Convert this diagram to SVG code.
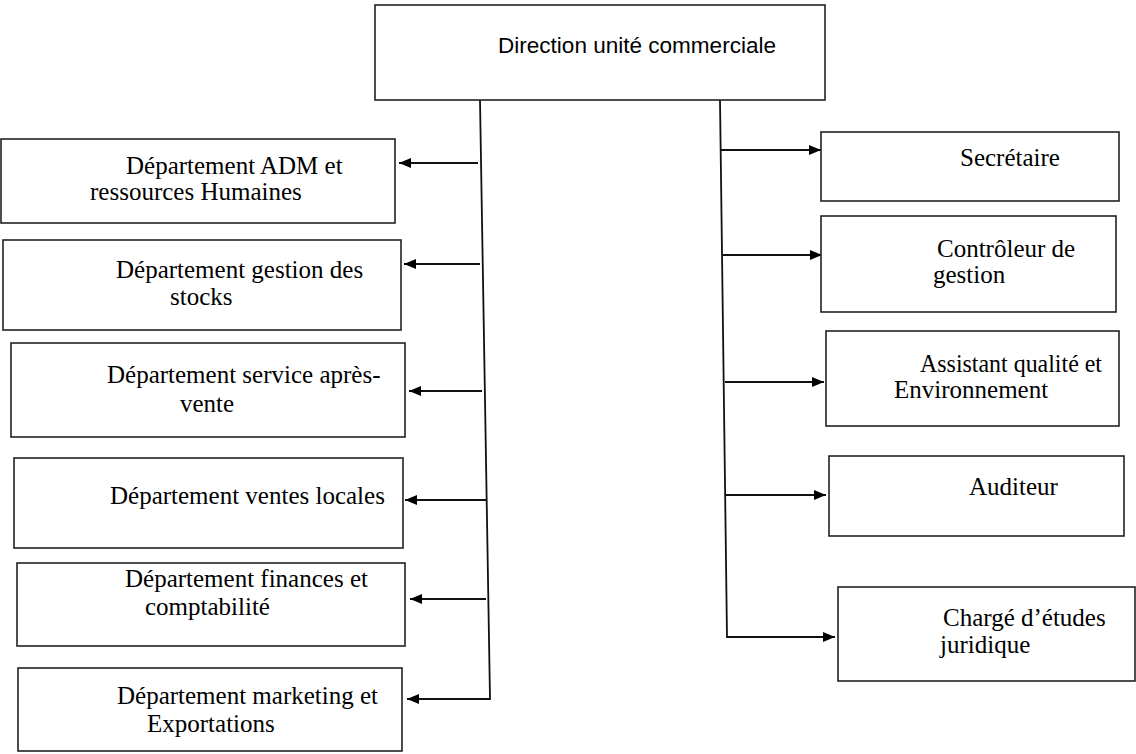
<svg xmlns="http://www.w3.org/2000/svg" width="1136" height="754" viewBox="0 0 1136 754">
<style>
.box{fill:#fff;stroke:#222;stroke-width:1.6}
.t{font-family:"Liberation Serif","Times New Roman",serif;font-size:25px;fill:#000}
.ts{font-family:"Liberation Sans",Arial,sans-serif;font-size:22px;fill:#000}
.c{fill:none;stroke:#111;stroke-width:1.8}
</style>
<defs>
<marker id="ah" markerUnits="userSpaceOnUse" markerWidth="14" markerHeight="12" refX="12" refY="5" orient="auto">
<path d="M0,0 L12,5 L0,10 Z" fill="#000"/>
</marker>
</defs>
<rect width="1136" height="754" fill="#fff"/>
<g id="connectors">
<path class="c" d="M480,100 L490,699 L407,699" marker-end="url(#ah)"/>
<path class="c" d="M478,163 L399,163" marker-end="url(#ah)"/>
<path class="c" d="M480,264 L404,264" marker-end="url(#ah)"/>
<path class="c" d="M482,391 L409,391" marker-end="url(#ah)"/>
<path class="c" d="M487,500 L405,500" marker-end="url(#ah)"/>
<path class="c" d="M486,599 L410,599" marker-end="url(#ah)"/>
<path class="c" d="M720,100 L727,637 L835,637" marker-end="url(#ah)"/>
<path class="c" d="M721,150 L821,150" marker-end="url(#ah)"/>
<path class="c" d="M723,255 L822,255" marker-end="url(#ah)"/>
<path class="c" d="M725,382 L824,382" marker-end="url(#ah)"/>
<path class="c" d="M726,495 L826,495" marker-end="url(#ah)"/>
</g>
<g id="direction">
<rect class="box" x="375" y="5" width="450" height="95"/>
<text class="ts" x="498" y="53" textLength="278" lengthAdjust="spacingAndGlyphs">Direction unité commerciale</text>
</g>
<g id="dept-adm">
<rect class="box" x="1" y="139" width="394" height="84"/>
<text class="t" x="126" y="174">Département ADM et</text>
<text class="t" x="90" y="200">ressources Humaines</text>
</g>
<g id="dept-stocks">
<rect class="box" x="3" y="240" width="398" height="90"/>
<text class="t" x="116" y="278">Département gestion des</text>
<text class="t" x="170" y="305">stocks</text>
</g>
<g id="dept-sav">
<rect class="box" x="11" y="343" width="394" height="94"/>
<text class="t" x="107" y="383">Département service après-</text>
<text class="t" x="180" y="412">vente</text>
</g>
<g id="dept-ventes">
<rect class="box" x="14" y="458" width="389" height="90"/>
<text class="t" x="110" y="504">Département ventes locales</text>
</g>
<g id="dept-finances">
<rect class="box" x="17" y="563" width="388" height="83"/>
<text class="t" x="125" y="587">Département finances et</text>
<text class="t" x="145" y="615">comptabilité</text>
</g>
<g id="dept-marketing">
<rect class="box" x="18" y="668" width="384" height="83"/>
<text class="t" x="117" y="704">Département marketing et</text>
<text class="t" x="147" y="732">Exportations</text>
</g>
<g id="secretaire">
<rect class="box" x="821" y="132" width="298" height="69"/>
<text class="t" x="960" y="166">Secrétaire</text>
</g>
<g id="controleur">
<rect class="box" x="821" y="216" width="295" height="96"/>
<text class="t" x="937" y="257">Contrôleur de</text>
<text class="t" x="933" y="283">gestion</text>
</g>
<g id="assistant">
<rect class="box" x="826" y="331" width="293" height="95"/>
<text class="t" x="920" y="372" textLength="182" lengthAdjust="spacingAndGlyphs">Assistant qualité et</text>
<text class="t" x="894" y="398">Environnement</text>
</g>
<g id="auditeur">
<rect class="box" x="829" y="456" width="295" height="80"/>
<text class="t" x="969" y="495">Auditeur</text>
</g>
<g id="charge">
<rect class="box" x="838" y="587" width="297" height="94"/>
<text class="t" x="943" y="626">Chargé d’études</text>
<text class="t" x="940" y="653">juridique</text>
</g>
</svg>
